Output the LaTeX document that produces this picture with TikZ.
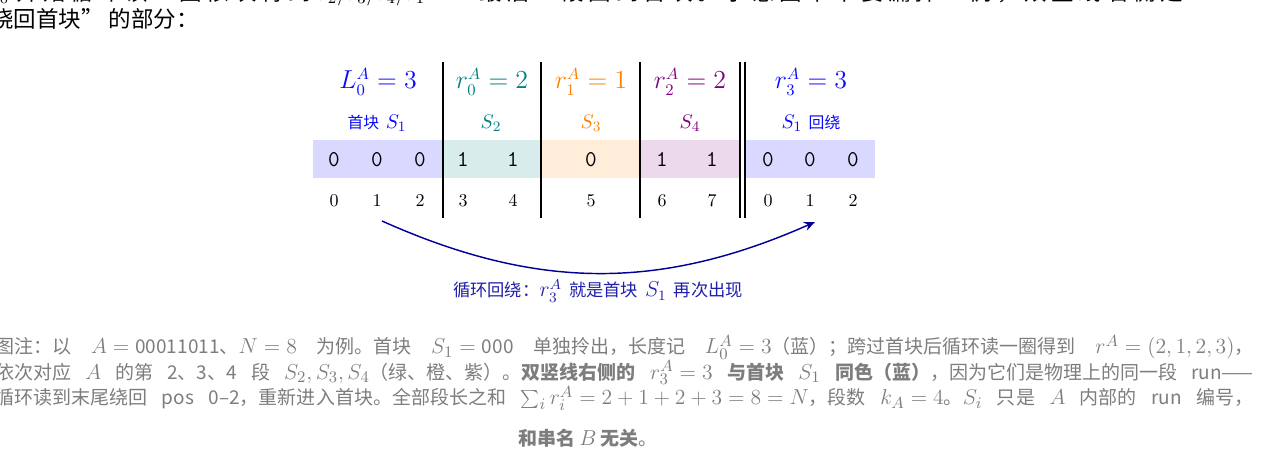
\documentclass[tikz,border=0pt]{standalone}
\usepackage{fontspec}
\newfontfamily\cjk[Scale=0.8]{Noto Sans CJK SC}
\newfontfamily\cjkfull{Noto Sans CJK SC}
\newfontfamily\cjktop[LetterSpace=21]{Noto Sans CJK SC}
\usetikzlibrary{arrows.meta}
\definecolor{cblue}{RGB}{10,10,255}
\definecolor{cteal}{RGB}{0,128,128}
\definecolor{corange}{RGB}{255,128,0}
\definecolor{cpurple}{RGB}{128,0,128}
\definecolor{cnavy}{RGB}{0,0,150}
\definecolor{clbl}{RGB}{30,30,170}
\definecolor{capgray}{RGB}{125,125,125}
\XeTeXlinebreaklocale "zh"
\XeTeXlinebreakskip=0pt
\newcommand\capline[1]{\makebox[699pt][s]{#1}}
\newcommand\fixmath{\thickmuskip=5mu\medmuskip=4mu\thinmuskip=3mu\XeTeXlinebreakskip=0pt plus 1pt}
\begin{document}
\begin{tikzpicture}[x=0.55556pt,y=-0.55556pt,
  hdr/.style={font=\fontsize{13.5}{15}\selectfont, anchor=base, inner sep=0pt},
  sublbl/.style={font=\fontsize{11}{13}\selectfont, anchor=base, inner sep=0pt},
  bit/.style={font=\fontsize{12.5}{14}\selectfont\ttfamily, anchor=base, inner sep=0pt},
  idx/.style={font=\normalsize, anchor=base, inner sep=0pt},
  sepline/.style={line width=0.6pt},
  captxt/.style={font=\fontsize{13.2}{15}\selectfont\cjk\fixmath, text=capgray, anchor=base west, inner sep=0pt},
  toptext/.style={font=\fontsize{12.5}{15}\selectfont, anchor=base west, inner sep=0pt},
  arrlbl/.style={font=\fontsize{12}{14}\selectfont, text=clbl, anchor=base, inner sep=0pt},
  arr/.style={-{Stealth[length=6pt,width=5pt]}, cnavy, line width=0.8pt}]
\useasboundingbox (0,0) rectangle (1280,460);
% top (cropped) text
\node[toptext] (t1) at (-15,0.5) {$L_0$ {\cjktop 开始循环读一圈依次得到} $r_2/r_3/r_4/r_1$ {\cjktop —— 最后一段回到首块。示意图中不要漏掉一例，双竖线右侧是}};
\node[toptext] (t2) at (-9,28) {{\cjkfull 绕回首块” 的部分：}};
% bands
\fill[blue!15] (313,140) rectangle (443,178.5);
\fill[teal!15] (443,140) rectangle (541,178.5);
\fill[orange!15] (541,140) rectangle (640,178.5);
\fill[violet!15] (640,140) rectangle (740,178.5);
\fill[blue!15] (745,140) rectangle (875,178.5);
% separators
\draw[sepline] (443,62) -- (443,218);
\draw[sepline] (541,62) -- (541,218);
\draw[sepline] (640,62) -- (640,218);
\draw[sepline] (740,62) -- (740,218);
\draw[sepline] (745,62) -- (745,218);
% headers
\node[hdr, text=cblue] (h0) at (378,89) {$L_0^A = 3$};
\node[hdr, text=cteal] (h1) at (492,89) {$r_0^A = 2$};
\node[hdr, text=corange] (h2) at (591,89) {$r_1^A = 1$};
\node[hdr, text=cpurple] (h3) at (690,89) {$r_2^A = 2$};
\node[hdr, text=cblue] (h4) at (811,89) {$r_3^A = 3$};
% sub labels
\node[sublbl, text=cblue] (s0) at (377,129) {{\cjk 首块} $S_1$};
\node[sublbl, text=cteal] (s1) at (491,129) {$S_2$};
\node[sublbl, text=corange] (s2) at (591,129) {$S_3$};
\node[sublbl, text=cpurple] (s3) at (690,129) {$S_4$};
\node[sublbl, text=cblue] (s4) at (811,129) {$S_1$ {\cjk 回绕}};
% bits
\foreach \x/\v [count=\k from 0] in {334/0,377/0,420/0,463/1,513/1,591/0,662/1,712/1,768/0,810/0,853/0}
  \node[bit] (b\k) at (\x,166.5) {\v};
% indices
\foreach \x/\v [count=\k from 0] in {334/0,377/1,420/2,463/3,513/4,591/5,662/6,712/7,768/0,810/1,853/2}
  \node[idx] (i\k) at (\x,206.5) {\v};
% wrap arrow
\coordinate (as) at (382,221);
\coordinate (ae) at (815,222);
\draw[arr] (as) to[bend right=24] (ae);
\node[arrlbl] (albl) at (598,297) {{\cjk 循环回绕：}$r_3^A$ {\cjk 就是首块} $S_1$ {\cjk 再次出现}};
% caption
\node[captxt] (c1) at (-5,354) {\capline{图注：以 $A = \mbox{00011011}$、$N = 8$ 为例。首块 $S_1 = \mbox{000}$ 单独拎出，长度记 $L_0^A = 3$（蓝）；跨过首块后循环读一圈得到 $r^A = (2,1,2,3)$，}};
\node[captxt] (c2) at (-5,379.5) {\capline{依次对应 $A$ 的第 2、3、4 段 $S_2, S_3, S_4$（绿、橙、紫）。{\bfseries 双竖线右侧的 $r_3^A = 3$ 与首块 $S_1$ 同色（蓝）}，因为它们是物理上的同一段 run——}};
\node[captxt] (c3) at (-5,405) {\capline{循环读到末尾绕回 pos 0–2，重新进入首块。全部段长之和 $\sum_i r_i^A = 2+1+2+3 = 8 = N$，段数 $k_A = 4$。$S_i$ 只是 $A$ 内部的 run 编号，}};
\node[captxt, anchor=base] (c4) at (588,445) {{\bfseries 和串名 $B$ 无关}。};
\end{tikzpicture}
\end{document}
